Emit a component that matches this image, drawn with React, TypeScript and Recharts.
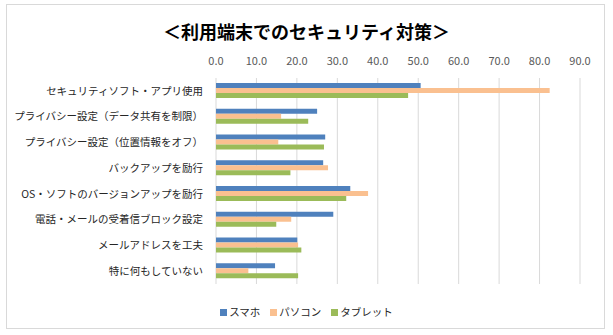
import React from 'react';
import { BarChart, Bar, XAxis, YAxis, CartesianGrid } from 'recharts';

const categories = [
  'セキュリティソフト・アプリ使用',
  'プライバシー設定（データ共有を制限）',
  'プライバシー設定（位置情報をオフ）',
  'バックアップを励行',
  'OS・ソフトのバージョンアップを励行',
  '電話・メールの受着信ブロック設定',
  'メールアドレスを工夫',
  '特に何もしていない',
];

const smartphone = [50.6, 25.0, 27.0, 26.5, 33.2, 29.0, 20.1, 14.6];
const pc = [82.5, 16.1, 15.4, 27.7, 37.6, 18.6, 20.3, 8.0];
const tablet = [47.5, 22.8, 26.7, 18.4, 32.2, 14.9, 21.1, 20.3];

const xTicks = [0, 10, 20, 30, 40, 50, 60, 70, 80, 90];

const series = [
  { key: 'smartphone', name: 'スマホ', color: '#4F81BD' },
  { key: 'pc', name: 'パソコン', color: '#FAC090' },
  { key: 'tablet', name: 'タブレット', color: '#9BBB59' },
];

const data = categories.map((name, i) => ({
  name,
  smartphone: smartphone[i],
  pc: pc[i],
  tablet: tablet[i],
}));

const FONT = '"Noto Sans CJK JP", sans-serif';

const App: React.FC = () => {
  return (
    <div style={{ position: 'absolute', left: 0, top: 0, width: 613, height: 335, background: '#fff', fontFamily: FONT }}>
      {/* outer frame */}
      <div
        style={{
          position: 'absolute',
          left: 6,
          top: 4,
          width: 599,
          height: 325,
          border: '1px solid #d9d9d9',
          boxSizing: 'border-box',
        }}
      />
      <div
        style={{
          position: 'absolute',
          left: 0,
          width: 613,
          top: 18,
          textAlign: 'center',
          fontSize: 18,
          fontWeight: 'bold',
          color: '#000',
          lineHeight: '26px',
        }}
      >
        ＜利用端末でのセキュリティ対策＞
      </div>
      <div style={{ position: 'absolute', left: 0, top: 0 }}>
        <BarChart
          width={613}
          height={335}
          data={data}
          layout="vertical"
          margin={{ top: 48, right: 33, bottom: 51, left: 0 }}
          barGap={0}
        >
          <CartesianGrid horizontal={false} stroke="#d9d9d9" />
          <XAxis
            type="number"
            orientation="top"
            domain={[0, 90]}
            ticks={xTicks}
            interval={0}
            height={30}
            tickFormatter={(v: number) => v.toFixed(1)}
            axisLine={false}
            tickLine={false}
            tickMargin={7}
            tick={{ fill: '#595959', fontSize: 11, fontFamily: FONT }}
          />
          <YAxis
            type="category"
            dataKey="name"
            width={216}
            interval={0}
            axisLine={false}
            tickLine={false}
            tickSize={0}
            tickMargin={13}
            tick={{ fill: '#262626', fontSize: 10.5, fontFamily: FONT }}
          />
          {series.map((s) => (
            <Bar key={s.key} dataKey={s.key} name={s.name} fill={s.color} barSize={5} isAnimationActive={false} />
          ))}
        </BarChart>
      </div>
      <div
        style={{
          position: 'absolute',
          left: 0,
          width: 613,
          top: 304,
          display: 'flex',
          justifyContent: 'center',
          fontSize: 10.5,
          color: '#262626',
          lineHeight: '16px',
        }}
      >
        {series.map((s) => (
          <div key={s.key} style={{ display: 'flex', alignItems: 'center', margin: '0 5px' }}>
            <span style={{ width: 7, height: 7, background: s.color, display: 'inline-block', marginRight: 2 }} />
            <span>{s.name}</span>
          </div>
        ))}
      </div>
    </div>
  );
};

export default App;
